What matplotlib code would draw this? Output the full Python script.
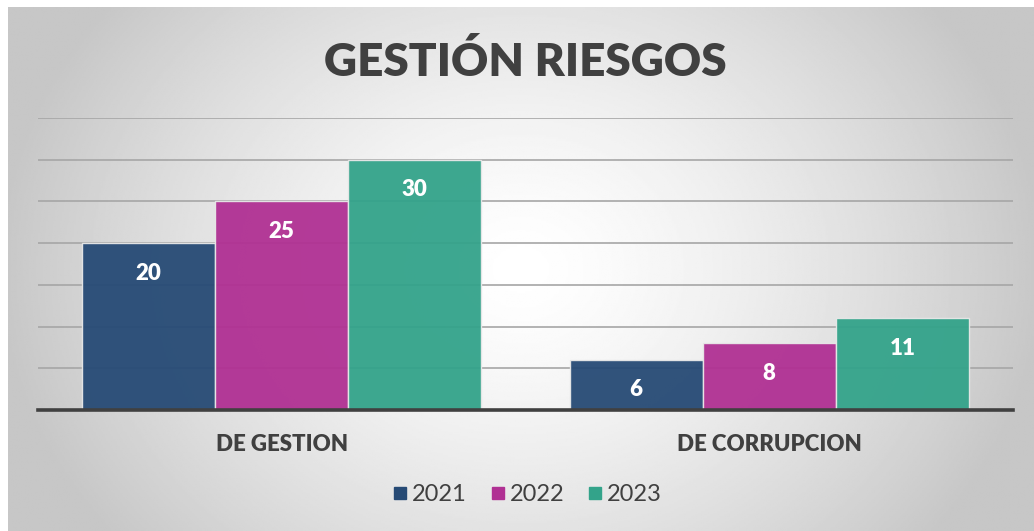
import matplotlib
matplotlib.use('agg')
import matplotlib.pyplot as plt
import numpy as np
from matplotlib.lines import Line2D

# datos
categorias = ["DE GESTION", "DE CORRUPCION"]
anios = ["2021", "2022", "2023"]
v2021 = [20, 6]
v2022 = [25, 8]
v2023 = [30, 11]
colores = ["#264A75", "#B03093", "#33A38A"]

fig = plt.figure(figsize=(10.34, 5.31), dpi=100)
fig.patch.set_facecolor("white")

# fondo con degradado radial
bg = fig.add_axes([8/1034, 0, 1 - 8/1034, 524/531])
yy, xx = np.mgrid[0:1:300j, 0:1:600j]
r = np.sqrt(((xx - 0.5) / 0.62) ** 2 + ((yy - 0.5) / 1.0) ** 2)
r = np.clip(r / 0.82, 0, 1)
val = 1.0 - 0.22 * r ** 1.4
bg.imshow(val, cmap="gray", vmin=0, vmax=1, aspect="auto", extent=[0, 1, 0, 1])
bg.set_axis_off()

ax = fig.add_axes([38/1034, 121/531, 975/1034, 292/531])
ax.set_facecolor("none")
x = np.arange(len(categorias))
w = 0.273
series = [v2021, v2022, v2023]
for i, (vals, c) in enumerate(zip(series, colores)):
    bars = ax.bar(x + (i - 1) * w, vals, width=w, color=c, alpha=0.95,
                  edgecolor="#e8e8e8", linewidth=1, zorder=3, label=anios[i])
    for b, v in zip(bars, vals):
        ax.annotate(str(v), xy=(b.get_x() + b.get_width() / 2, v),
                    xytext=(0, -21.5), textcoords="offset points",
                    ha="center", va="center", color="white",
                    fontsize=16, fontweight="heavy", family="Lato", zorder=4)

ax.set_xlim(-0.5, 1.5)
ax.set_ylim(0, 35)
ax.set_yticks(np.arange(5, 36, 5))
ax.yaxis.grid(True, color="#a6a6a6", linewidth=1.2, zorder=1)
ax.axhline(0, color="#404040", linewidth=2.6, zorder=5, clip_on=False)
for s in ax.spines.values():
    s.set_visible(False)
ax.tick_params(left=False, labelleft=False, bottom=False)
ax.set_xticks(x)
ax.set_xticklabels(categorias, fontsize=16, fontweight="heavy",
                   color="#404040", family="Lato")
ax.tick_params(axis="x", pad=14)

fig.text(0.508, 0.885, "GESTIÓN RIESGOS", ha="center", va="center",
         fontsize=33, fontweight="heavy", color="#404040", family="Lato")

handles = [Line2D([], [], marker="s", linestyle="none", markersize=8,
                  markerfacecolor=c, markeredgecolor=c) for c in colores]
fig.legend(handles, anios, loc="center", bbox_to_anchor=(0.51, 0.068),
           ncol=3, frameon=False, handletextpad=0.2, handlelength=0.6,
           columnspacing=1.0, labelcolor="#404040",
           prop={"family": "Lato", "size": 17})

fig.savefig("out.png", dpi=100)
